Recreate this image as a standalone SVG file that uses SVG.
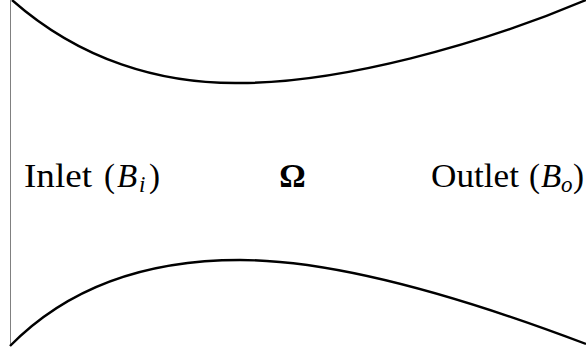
<svg xmlns="http://www.w3.org/2000/svg" width="586" height="352" viewBox="0 0 586 352">
<style>
.wall{fill:none;stroke:#000;stroke-width:2.4}
.lab{font-family:"Liberation Serif",serif;font-size:33px;fill:#000}
.it{font-style:italic}
.sub{font-style:italic;font-size:23px}
</style>
<rect width="586" height="352" fill="#fff"/>
<g id="inlet-line"><line x1="10.5" y1="0" x2="10.5" y2="346" stroke="#808080" stroke-width="1"/></g>
<g id="top-wall"><path class="wall" d="M 12 0 C 80 60, 160 84, 240 83 C 340 83, 480 45, 586 0"/></g>
<g id="bottom-wall"><path class="wall" d="M 10 346 C 70 285, 150 260, 240 260 C 340 260, 470 300, 586 344"/></g>
<g id="inlet"><text class="lab" y="187"><tspan x="24" textLength="68" lengthAdjust="spacingAndGlyphs">Inlet</tspan><tspan x="104">(</tspan><tspan class="it" x="117">B</tspan><tspan class="sub" x="139" dy="5">i</tspan><tspan x="149" dy="-5">)</tspan></text></g>
<g id="omega"><text class="lab" x="292.5" y="187" text-anchor="middle" font-weight="bold" font-size="34">Ω</text></g>
<g id="outlet"><text class="lab" y="187"><tspan x="431" textLength="88" lengthAdjust="spacingAndGlyphs">Outlet</tspan><tspan x="529">(</tspan><tspan class="it" x="541">B</tspan><tspan class="sub" x="561" dy="5">o</tspan><tspan x="573" dy="-5">)</tspan></text></g>
</svg>
